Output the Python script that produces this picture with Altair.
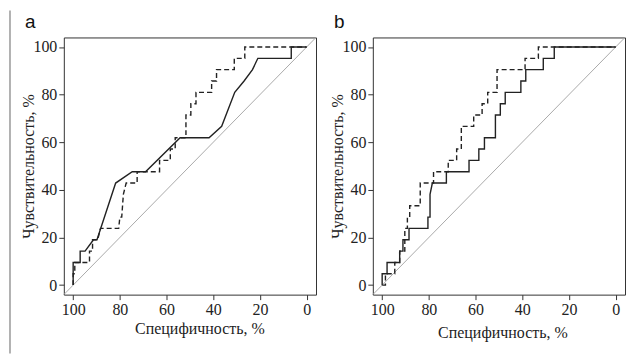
import altair as alt
import pandas as pd

# ---------------- data ----------------
TICKS = [0, 20, 40, 60, 80, 100]
X_TITLE = "Специфичность, %"
Y_TITLE = "Чувствительность, %"
PANEL_LABELS = ["a", "b"]

DIAG_SPEC = [104, -4]
DIAG_SENS = [-4, 104]

# panel a, solid
A_SOLID_SPEC = [100, 100, 97, 97, 94.9, 91.3, 89.8, 81.8, 74.7, 69, 54.2, 41.8, 36.4, 30.8, 26.8, 23.2, 20.9, 6.6, 6.6, 0]
A_SOLID_SENS = [0, 9.52, 9.52, 14.29, 14.29, 19.05, 19.05, 42.86, 47.62, 47.62, 61.9, 61.9, 66.67, 80.95, 85.71, 90.48, 95.24, 95.24, 100, 100]
# panel a, dashed
A_DASH_SPEC = [100, 100, 99.3, 99.3, 93, 93, 91.7, 91.7, 89.5, 88.3, 80.5, 80, 79.2, 78.5, 77.3, 72.6, 72.6, 63, 63, 58.4, 58.4, 56.3, 56.3,
               51.7, 51.7, 49.6, 49.6, 47.4, 47.4, 40.7, 40.7, 38.6, 38.6, 31, 31, 26.5, 26.5, 0]
A_DASH_SENS = [0, 4.76, 4.76, 9.52, 9.52, 14.29, 14.29, 19.05, 19.05, 23.81, 23.81, 28.57, 28.57, 38.1, 42.86, 42.86, 47.62, 47.62, 52.38, 52.38, 57.14, 57.14, 61.9,
               61.9, 71.43, 71.43, 76.19, 76.19, 80.95, 80.95, 85.71, 85.71, 90.48, 90.48, 95.24, 95.24, 100, 100]

# panel b, solid
B_SOLID_SPEC = [100, 100, 97.9, 97.9, 92.5, 92.5, 91.1, 91.1, 88.5, 88.5, 80.4, 80.4, 79.5, 79.5, 78.5, 72.5, 72.5, 62.8, 62.8, 58.6, 58.6, 56.2, 56.2,
                51.5, 51.5, 49.4, 49.4, 47.3, 47.3, 40.6, 40.6, 38.5, 38.5, 31, 31, 26.3, 26.3, 0]
B_SOLID_SENS = [0, 4.76, 4.76, 9.52, 9.52, 14.29, 14.29, 19.05, 19.05, 23.81, 23.81, 28.57, 28.57, 38.1, 42.86, 42.86, 47.62, 47.62, 52.38, 52.38, 57.14, 57.14, 61.9,
                61.9, 71.43, 71.43, 76.19, 76.19, 80.95, 80.95, 85.71, 85.71, 90.48, 90.48, 95.24, 95.24, 100, 100]
# panel b, dashed
B_DASH_SPEC = [100, 98.6, 98.6, 94.6, 94.6, 92.5, 92.5, 90.3, 90.3, 89.2, 89.2, 88.2, 88.2, 83.7, 83.7, 78, 78, 71.7, 71.7, 68.1, 68.1, 66.1, 66.1,
               60.8, 60.8, 57.2, 57.2, 54.8, 54.8, 50.8, 50.8, 38.8, 38.8, 33.1, 33.1, 0]
B_DASH_SENS = [0, 0, 4.76, 4.76, 9.52, 9.52, 14.29, 14.29, 23.81, 23.81, 28.57, 28.57, 33.33, 33.33, 42.86, 42.86, 47.62, 47.62, 52.38, 52.38, 57.14, 57.14, 66.67,
               66.67, 71.43, 71.43, 76.19, 76.19, 80.95, 80.95, 90.48, 90.48, 95.24, 95.24, 100, 100]

FONT = "Liberation Sans Narrow"
LABEL_FONT = "Liberation Sans"
INK = "#222222"


def df(spec, sens):
    return pd.DataFrame({"spec": spec, "sens": sens, "idx": list(range(len(spec)))})


def panel(label, s_spec, s_sens, d_spec, d_sens, xt_x, xt_y, with_rule):
    xs = alt.Scale(domain=[-4, 104], reverse=True, nice=False, zero=False)
    ys = alt.Scale(domain=[-4, 104], nice=False, zero=False)
    X = alt.X("spec:Q", scale=xs, axis=alt.Axis(values=TICKS, title=X_TITLE, titleX=xt_x, titleY=xt_y,
                                                 titleBaseline="middle", titleAlign="center"))
    Y = alt.Y("sens:Q", scale=ys, axis=alt.Axis(values=TICKS, title=Y_TITLE, titleX=-35, titleY=129,
                                                 titleBaseline="middle", titleAlign="center", titleAngle=270))
    diag = alt.Chart(df(DIAG_SPEC, DIAG_SENS)).mark_line(color="#aaaaaa", strokeWidth=1).encode(
        x=X, y=Y, order="idx:Q")
    solid = alt.Chart(df(s_spec, s_sens)).mark_line(color=INK, strokeWidth=1.4).encode(
        x=X, y=Y, order="idx:Q")
    dashed = alt.Chart(df(d_spec, d_sens)).mark_line(color=INK, strokeWidth=1.4, strokeDash=[5, 3]).encode(
        x=X, y=Y, order="idx:Q")
    txt = alt.Chart(pd.DataFrame({"t": [label]})).mark_text(
        align="left", baseline="alphabetic", fontSize=19, font=LABEL_FONT, color="#111111"
    ).encode(x=alt.value(-39), y=alt.value(-9), text="t:N")
    layers = [diag, solid, dashed, txt]
    if with_rule:
        rule = alt.Chart(pd.DataFrame({"v": [0]})).mark_rule(color="#999999", strokeWidth=1.5).encode(
            x=alt.value(-54), y=alt.value(-27), y2=alt.value(317))
        layers.append(rule)
    return alt.layer(*layers).properties(width=253, height=258)


pa = panel(PANEL_LABELS[0], A_SOLID_SPEC, A_SOLID_SENS, A_DASH_SPEC, A_DASH_SENS, 136, 34, True)
pb = panel(PANEL_LABELS[1], B_SOLID_SPEC, B_SOLID_SENS, B_DASH_SPEC, B_DASH_SENS, 130, 38, False)

chart = alt.hconcat(pa, pb, spacing=57).properties(
    bounds="flush", padding=0
).configure_view(
    stroke="#333333", strokeWidth=1
).configure_axis(
    domain=False, grid=False, tickSize=5, tickColor="#333333", tickWidth=1,
    labelFont=FONT, labelFontSize=16, labelColor=INK, labelPadding=2,
    titleFont=FONT, titleFontSize=16, titleColor=INK, titleFontWeight="normal"
)

chart.save("out.html", embed_options={"renderer": "svg", "actions": False})
